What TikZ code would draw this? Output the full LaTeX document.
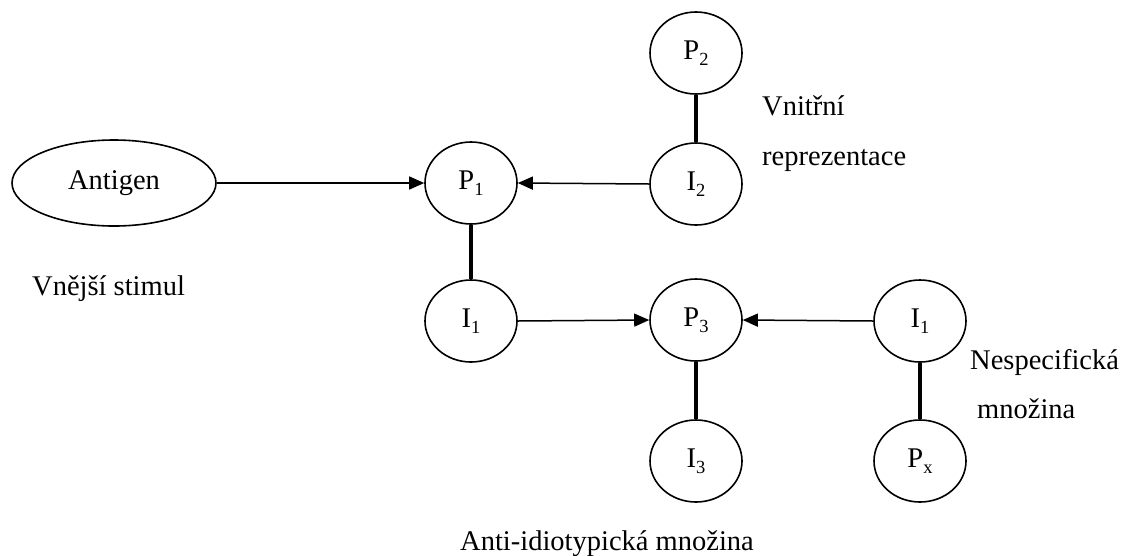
\documentclass[tikz,border=0pt]{standalone}
\usepackage{fontspec}
\setmainfont{Liberation Serif}
\usetikzlibrary{shapes.geometric,arrows.meta}
\newcommand\sbs[1]{\raisebox{-0.22em}{\fontsize{18.5}{19}\selectfont #1}}
\begin{document}
\begin{tikzpicture}[x=1pt,y=-1pt,
  every node/.style={font=\fontsize{28.5}{34}\selectfont},
  cell/.style={draw, ellipse, line width=1.6pt, minimum width=92pt, minimum height=82pt, inner sep=0pt},
  bond/.style={line width=4pt},
  flow/.style={line width=1.5pt, -{Triangle[length=15pt,width=13pt]}},
  lbl/.style={anchor=base west, inner sep=0pt}]
\useasboundingbox (0,0) rectangle (1126,555);

% molecules
\node[cell, minimum width=204pt, minimum height=86pt] (ag) at (114,183) {Antigen};
\node[cell] (p1) at (471,183) {P\sbs{1}};
\node[cell] (p2) at (696,53) {P\sbs{2}};
\node[cell] (i2) at (696,184) {I\sbs{2}};
\node[cell] (i1a) at (471,321) {I\sbs{1}};
\node[cell] (p3) at (696,320) {P\sbs{3}};
\node[cell] (i1b) at (920,321) {I\sbs{1}};
\node[cell] (i3) at (696,461) {I\sbs{3}};
\node[cell] (px) at (920,461) {P\sbs{x}};

% stimulation
\draw[flow] (ag.east) -- (p1.west);
\draw[flow] (i2.west) -- (p1.east);
\draw[flow] (i1a.east) -- (p3.west);
\draw[flow] (i1b.west) -- (p3.east);

% idiotype bonds
\draw[bond] (p2.south) -- (i2.north);
\draw[bond] (p1.south) -- (i1a.north);
\draw[bond] (p3.south) -- (i3.north);
\draw[bond] (i1b.south) -- (px.north);

% captions
\node[lbl] (t1) at (762,115) {Vnitřní};
\node[lbl] (t2) at (762,165) {reprezentace};
\node[lbl] (t3) at (32,295) {Vnější stimul};
\node[lbl] (t4) at (970,369) {Nespecifická};
\node[lbl] (t5) at (977,418) {množina};
\node[lbl] (t6) at (460,550) {Anti-idiotypická množina};
\end{tikzpicture}
\end{document}
